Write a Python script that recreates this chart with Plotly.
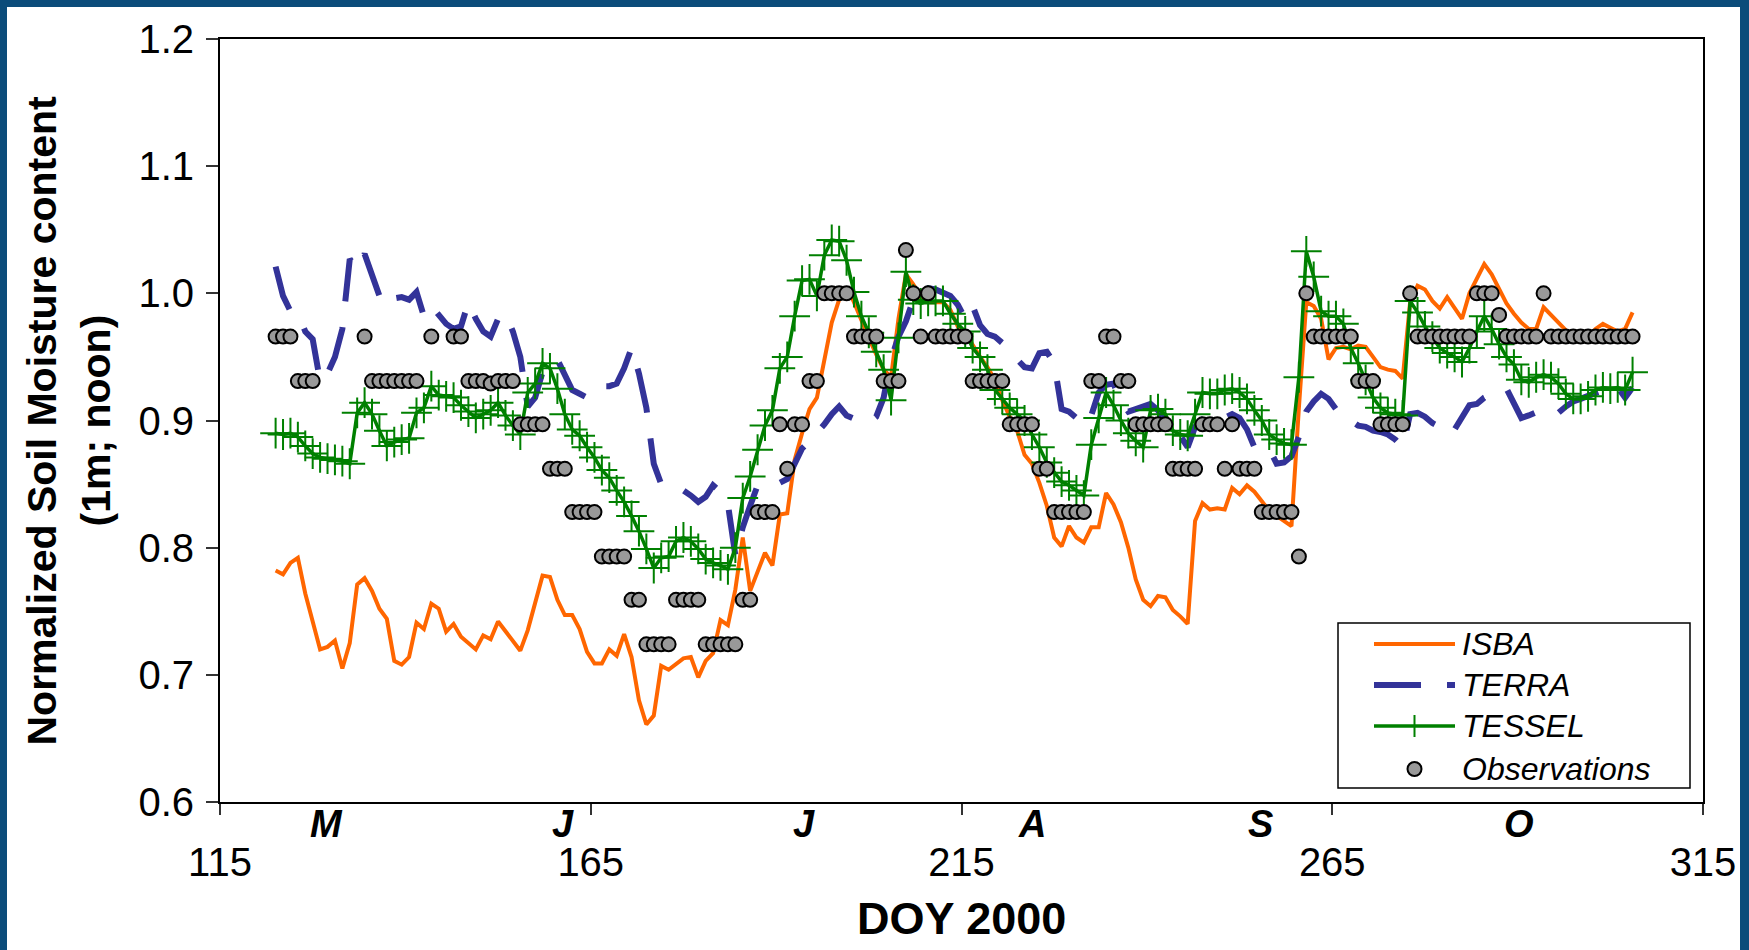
import plotly.graph_objects as go

# ---------------- data (DOY 2000, daily values at noon) ----------------
DOY = list(range(122, 306))

isba = [
    0.782, 0.779, 0.788, 0.792, 0.764, 0.743, 0.720, 0.722, 0.727, 0.705,   # 122-131
    0.725, 0.771, 0.776, 0.766, 0.752, 0.744, 0.711, 0.708, 0.714, 0.741,   # 132-141
    0.736, 0.756, 0.752, 0.734, 0.740, 0.730, 0.725, 0.720, 0.731, 0.728,   # 142-151
    0.742, 0.734, 0.726, 0.719, 0.735, 0.756, 0.778, 0.777, 0.759, 0.747,   # 152-161
    0.747, 0.736, 0.718, 0.709, 0.709, 0.720, 0.715, 0.732, 0.714, 0.680,   # 162-171
    0.661, 0.668, 0.707, 0.704, 0.709, 0.713, 0.714, 0.698, 0.711, 0.717,   # 172-181
    0.743, 0.739, 0.767, 0.808, 0.766, 0.782, 0.796, 0.786, 0.826, 0.827,   # 182-191
    0.869, 0.890, 0.909, 0.918, 0.946, 0.977, 0.995, 1.005, 0.993, 0.978,   # 192-201
    0.965, 0.952, 0.940, 0.934, 0.980, 1.015, 1.007, 0.997, 0.993, 0.993,   # 202-211
    0.993, 0.987, 0.974, 0.969, 0.959, 0.950, 0.942, 0.932, 0.916, 0.903,   # 212-221
    0.892, 0.873, 0.866, 0.851, 0.833, 0.808, 0.801, 0.817, 0.808, 0.804,   # 222-231
    0.816, 0.816, 0.843, 0.834, 0.820, 0.800, 0.775, 0.759, 0.754, 0.762,   # 232-241
    0.761, 0.751, 0.746, 0.740, 0.821, 0.835, 0.830, 0.831, 0.830, 0.847,   # 242-251
    0.842, 0.849, 0.844, 0.836, 0.829, 0.825, 0.821, 0.817, 0.910, 0.993,   # 252-261
    0.990, 0.980, 0.948, 0.957, 0.958, 0.956, 0.959, 0.958, 0.950, 0.942,   # 262-271
    0.940, 0.939, 0.933, 0.993, 1.006, 1.003, 0.994, 0.988, 0.997, 0.988,   # 272-281
    0.980, 1.000, 1.011, 1.023, 1.015, 1.003, 0.992, 0.984, 0.977, 0.972,   # 282-291
    0.972, 0.989, 0.983, 0.976, 0.970, 0.965, 0.963, 0.966, 0.972, 0.976,   # 292-301
    0.973, 0.970, 0.972, 0.985,                                             # 302-305
]

terra = [
    1.021, 0.998, 0.986, 0.984, 0.970, 0.964, 0.931, 0.937, 0.950, 0.972,   # 122-131
    1.027, 1.019, 1.031, 1.013, 0.998, 0.990, 0.996, 0.997, 0.995, 1.001,   # 132-141
    0.982, 0.990, 0.983, 0.976, 0.972, 0.974, 0.993, 0.980, 0.970, 0.966,   # 142-151
    0.980, 0.984, 0.970, 0.950, 0.911, 0.918, 0.938, 0.946, 0.948, 0.937,   # 152-161
    0.924, 0.921, 0.918, 0.925, 0.927, 0.927, 0.929, 0.941, 0.957, 0.937,   # 162-171
    0.910, 0.866, 0.850, 0.847, 0.846, 0.845, 0.841, 0.836, 0.840, 0.849,   # 172-181
    0.844, 0.834, 0.794, 0.816, 0.833, 0.849, 0.850, 0.851, 0.851, 0.854,   # 182-191
    0.866, 0.878, 0.884, 0.890, 0.897, 0.905, 0.911, 0.904, 0.901, 0.899,   # 192-201
    0.898, 0.903, 0.918, 0.948, 0.966, 0.978, 0.995, 1.000, 1.004, 1.003,   # 202-211
    1.000, 0.998, 0.991, 0.980, 0.990, 0.975, 0.968, 0.966, 0.961, 0.956,   # 212-221
    0.948, 0.942, 0.941, 0.953, 0.954, 0.945, 0.909, 0.907, 0.902, 0.896,   # 222-231
    0.904, 0.922, 0.928, 0.929, 0.915, 0.907, 0.909, 0.911, 0.913, 0.908,   # 232-241
    0.900, 0.893, 0.888, 0.879, 0.895, 0.901, 0.905, 0.903, 0.902, 0.905,   # 242-251
    0.902, 0.893, 0.879, 0.879, 0.878, 0.866, 0.867, 0.872, 0.887, 0.907,   # 252-261
    0.915, 0.921, 0.917, 0.909, 0.902, 0.900, 0.896, 0.895, 0.892, 0.891,   # 262-271
    0.889, 0.885, 0.879, 0.905, 0.906, 0.903, 0.898, 0.895, 0.889, 0.893,   # 272-281
    0.902, 0.912, 0.913, 0.918, 0.921, 0.924, 0.925, 0.914, 0.902, 0.904,   # 282-291
    0.906, 0.909, 0.909, 0.906, 0.911, 0.915, 0.917, 0.919, 0.921, 0.924,   # 292-301
    0.928, 0.926, 0.918, 0.926,                                             # 302-305
]

tessel = [
    0.890, 0.889, 0.890, 0.887, 0.880, 0.874, 0.871, 0.870, 0.869, 0.868,   # 122-131
    0.866, 0.906, 0.914, 0.905, 0.892, 0.880, 0.883, 0.885, 0.886, 0.906,   # 132-141
    0.910, 0.927, 0.920, 0.919, 0.918, 0.912, 0.907, 0.902, 0.905, 0.908,   # 142-151
    0.914, 0.904, 0.896, 0.889, 0.922, 0.929, 0.945, 0.941, 0.925, 0.905,   # 152-161
    0.893, 0.888, 0.879, 0.871, 0.861, 0.855, 0.845, 0.836, 0.825, 0.813,   # 162-171
    0.799, 0.784, 0.792, 0.793, 0.805, 0.808, 0.805, 0.799, 0.791, 0.788,   # 172-181
    0.786, 0.783, 0.800, 0.839, 0.856, 0.877, 0.896, 0.908, 0.941, 0.950,   # 182-191
    0.982, 1.010, 1.011, 0.998, 1.030, 1.042, 1.041, 1.026, 1.001, 0.982,   # 192-201
    0.969, 0.954, 0.940, 0.916, 0.965, 1.017, 0.995, 0.992, 0.994, 0.994,   # 202-211
    0.994, 0.984, 0.976, 0.970, 0.957, 0.950, 0.940, 0.924, 0.917, 0.910,   # 212-221
    0.905, 0.900, 0.889, 0.879, 0.867, 0.859, 0.852, 0.849, 0.845, 0.841,   # 222-231
    0.881, 0.902, 0.922, 0.912, 0.900, 0.890, 0.884, 0.879, 0.908, 0.909,   # 232-241
    0.905, 0.892, 0.889, 0.888, 0.905, 0.922, 0.921, 0.921, 0.924, 0.925,   # 242-251
    0.922, 0.917, 0.908, 0.900, 0.889, 0.885, 0.882, 0.881, 0.934, 1.033,   # 252-261
    1.013, 0.986, 0.982, 0.982, 0.976, 0.957, 0.945, 0.932, 0.918, 0.910,   # 262-271
    0.906, 0.905, 0.904, 0.994, 0.985, 0.974, 0.966, 0.957, 0.953, 0.950,   # 272-281
    0.946, 0.957, 0.970, 0.982, 0.972, 0.960, 0.950, 0.944, 0.932, 0.930,   # 282-291
    0.934, 0.936, 0.934, 0.929, 0.921, 0.917, 0.917, 0.919, 0.924, 0.926,   # 292-301
    0.925, 0.926, 0.924, 0.938,                                             # 302-305
]

observations = [
    0.966, 0.966, 0.966, 0.931, 0.931, 0.931, None, None, None, None,       # 122-131
    None, None, 0.966, 0.931, 0.931, 0.931, 0.931, 0.931, 0.931, 0.931,     # 132-141
    None, 0.966, None, None, 0.966, 0.966, 0.931, 0.931, 0.931, 0.929,      # 142-151
    0.931, 0.931, 0.931, 0.897, 0.897, 0.897, 0.897, 0.862, 0.862, 0.862,   # 152-161
    0.828, 0.828, 0.828, 0.828, 0.793, 0.793, 0.793, 0.793, 0.759, 0.759,   # 162-171
    0.724, 0.724, 0.724, 0.724, 0.759, 0.759, 0.759, 0.759, 0.724, 0.724,   # 172-181
    0.724, 0.724, 0.724, 0.759, 0.759, 0.828, 0.828, 0.828, 0.897, 0.862,   # 182-191
    0.897, 0.897, 0.931, 0.931, 1.000, 1.000, 1.000, 1.000, 0.966, 0.966,   # 192-201
    0.966, 0.966, 0.931, 0.931, 0.931, 1.034, 1.000, 0.966, 1.000, 0.966,   # 202-211
    0.966, 0.966, 0.966, 0.966, 0.931, 0.931, 0.931, 0.931, 0.931, 0.897,   # 212-221
    0.897, 0.897, 0.897, 0.862, 0.862, 0.828, 0.828, 0.828, 0.828, 0.828,   # 222-231
    0.931, 0.931, 0.966, 0.966, 0.931, 0.931, 0.897, 0.897, 0.897, 0.897,   # 232-241
    0.897, 0.862, 0.862, 0.862, 0.862, 0.897, 0.897, 0.897, 0.862, 0.897,   # 242-251
    0.862, 0.862, 0.862, 0.828, 0.828, 0.828, 0.828, 0.828, 0.793, 1.000,   # 252-261
    0.966, 0.966, 0.966, 0.966, 0.966, 0.966, 0.931, 0.931, 0.931, 0.897,   # 262-271
    0.897, 0.897, 0.897, 1.000, 0.966, 0.966, 0.966, 0.966, 0.966, 0.966,   # 272-281
    0.966, 0.966, 1.000, 1.000, 1.000, 0.983, 0.966, 0.966, 0.966, 0.966,   # 282-291
    0.966, 1.000, 0.966, 0.966, 0.966, 0.966, 0.966, 0.966, 0.966, 0.966,   # 292-301
    0.966, 0.966, 0.966, 0.966,                                             # 302-305
]

x_ticks = [115, 165, 215, 265, 315]
y_ticks = [0.6, 0.7, 0.8, 0.9, 1.0, 1.1, 1.2]
month_labels = ["M", "J", "J", "A", "S", "O"]
month_pos = [129.4, 161.3, 193.7, 224.5, 255.3, 290.2]
series_names = ["ISBA", "TERRA", "TESSEL", "Observations"]
y_title_lines = ["Normalized Soil Moisture content", "(1m; noon)"]
x_title = "DOY 2000"

# values are at noon of each day
x = [d + 0.5 for d in DOY]

# ---------------- styles ----------------
FONT = "Liberation Sans, Arial, Helvetica, sans-serif"
C_ISBA = "#FF6600"
C_TERRA = "#333399"
C_TESSEL = "#008000"
C_OBS = "#999999"
C_FRAME = "#0B4C7A"
TERRA_DASH = "45px,26px"

W, H = 1749, 950
ML, MR, MT, MB = 220, 46, 39, 148
PW, PH = W - ML - MR, H - MT - MB


def px_x(p):
    return (p - ML) / PW


def px_y(p):
    return (H - MB - p) / PH


fig = go.Figure()
fig.add_trace(go.Scatter(x=x, y=isba, mode="lines", name=series_names[0],
                         line=dict(color=C_ISBA, width=4)))
fig.add_trace(go.Scatter(x=x, y=terra, mode="lines", name=series_names[1],
                         line=dict(color=C_TERRA, width=6, dash=TERRA_DASH)))
fig.add_trace(go.Scatter(x=x, y=tessel, mode="lines+markers", name=series_names[2],
                         line=dict(color=C_TESSEL, width=3.5),
                         marker=dict(symbol="cross-thin", size=22, color=C_TESSEL,
                                     line=dict(color=C_TESSEL, width=2))))
fig.add_trace(go.Scatter(x=x, y=observations, mode="markers", name=series_names[3],
                         marker=dict(symbol="circle", size=14, color=C_OBS,
                                     line=dict(color="black", width=2))))

shapes = []
annotations = []

# custom legend box
shapes.append(dict(type="rect", xref="paper", yref="paper",
                   x0=px_x(1338), x1=px_x(1690), y0=px_y(788), y1=px_y(623),
                   line=dict(color="black", width=1.5), fillcolor="white", layer="above"))
rows = [644, 685, 726, 769]
lx0, lx1, lxc = 1374, 1455, 1414.5
shapes.append(dict(type="line", xref="paper", yref="paper", x0=px_x(lx0), x1=px_x(lx1),
                   y0=px_y(rows[0]), y1=px_y(rows[0]), line=dict(color=C_ISBA, width=4)))
shapes.append(dict(type="line", xref="paper", yref="paper", x0=px_x(lx0), x1=px_x(lx1),
                   y0=px_y(rows[1]), y1=px_y(rows[1]),
                   line=dict(color=C_TERRA, width=6, dash="47px,26px")))
shapes.append(dict(type="line", xref="paper", yref="paper", x0=px_x(lx0), x1=px_x(lx1),
                   y0=px_y(rows[2]), y1=px_y(rows[2]), line=dict(color=C_TESSEL, width=3.5)))
shapes.append(dict(type="line", xref="paper", yref="paper", x0=px_x(lxc), x1=px_x(lxc),
                   y0=px_y(rows[2] - 11), y1=px_y(rows[2] + 11), line=dict(color=C_TESSEL, width=2)))
shapes.append(dict(type="circle", xref="paper", yref="paper",
                   x0=px_x(lxc - 7), x1=px_x(lxc + 7), y0=px_y(rows[3] + 7), y1=px_y(rows[3] - 7),
                   fillcolor=C_OBS, line=dict(color="black", width=2)))
for name, ry in zip(series_names, rows):
    annotations.append(dict(xref="paper", yref="paper", x=px_x(1460), y=px_y(ry),
                            xanchor="left", yanchor="middle", showarrow=False,
                            text=f"<i>{name}</i>",
                            font=dict(family=FONT, size=32, color="black")))

# month labels
for m, p in zip(month_labels, month_pos):
    annotations.append(dict(xref="x", yref="paper", x=p, y=px_y(824),
                            xanchor="center", yanchor="middle", showarrow=False,
                            text=f"<b><i>{m}</i></b>",
                            font=dict(family=FONT, size=38, color="black")))

# axis titles
annotations.append(dict(xref="paper", yref="paper", x=0.5, y=px_y(918),
                        xanchor="center", yanchor="middle", showarrow=False,
                        text=f"<b>{x_title}</b>", font=dict(family=FONT, size=45, color="black")))
for line_txt, cx in zip(y_title_lines, [41, 95]):
    annotations.append(dict(xref="paper", yref="paper", x=px_x(cx), y=0.5,
                            xanchor="center", yanchor="middle", showarrow=False, textangle=-90,
                            text=f"<b>{line_txt}</b>",
                            font=dict(family=FONT, size=41, color="black")))

# outer dark-blue frame (left, top, right)
shapes.append(dict(type="rect", xref="paper", yref="paper",
                   x0=px_x(0), x1=px_x(7), y0=px_y(H), y1=px_y(0),
                   fillcolor=C_FRAME, line=dict(width=0), layer="above"))
shapes.append(dict(type="rect", xref="paper", yref="paper",
                   x0=px_x(0), x1=px_x(W), y0=px_y(7), y1=px_y(0),
                   fillcolor=C_FRAME, line=dict(width=0), layer="above"))
shapes.append(dict(type="rect", xref="paper", yref="paper",
                   x0=px_x(W - 9), x1=px_x(W), y0=px_y(H), y1=px_y(0),
                   fillcolor=C_FRAME, line=dict(width=0), layer="above"))

fig.update_layout(
    width=W, height=H,
    margin=dict(l=ML, r=MR, t=MT, b=MB),
    paper_bgcolor="white", plot_bgcolor="white",
    showlegend=False,
    font=dict(family=FONT, color="black"),
    shapes=shapes, annotations=annotations,
    xaxis=dict(range=[115, 315], tickvals=x_ticks, ticktext=[str(t) for t in x_ticks],
               ticks="outside", ticklen=11, tickwidth=1.5, tickcolor="#333",
               showline=True, linewidth=2, linecolor="black", mirror=True,
               showgrid=False, zeroline=False, automargin=False,
               tickfont=dict(family=FONT, size=40, color="black"),
               ticklabelstandoff=13),
    yaxis=dict(range=[0.6, 1.2], tickvals=y_ticks, ticktext=[f"{t:.1f}" for t in y_ticks],
               ticks="outside", ticklen=12, tickwidth=1.5, tickcolor="#333",
               showline=True, linewidth=2, linecolor="black", mirror=True,
               showgrid=False, zeroline=False, automargin=False,
               tickfont=dict(family=FONT, size=40, color="black"),
               ticklabelstandoff=4),
)

fig.write_html("out.html",
               config={"displayModeBar": False},
               post_script="document.body.style.margin='0';document.body.style.overflow='hidden';")
